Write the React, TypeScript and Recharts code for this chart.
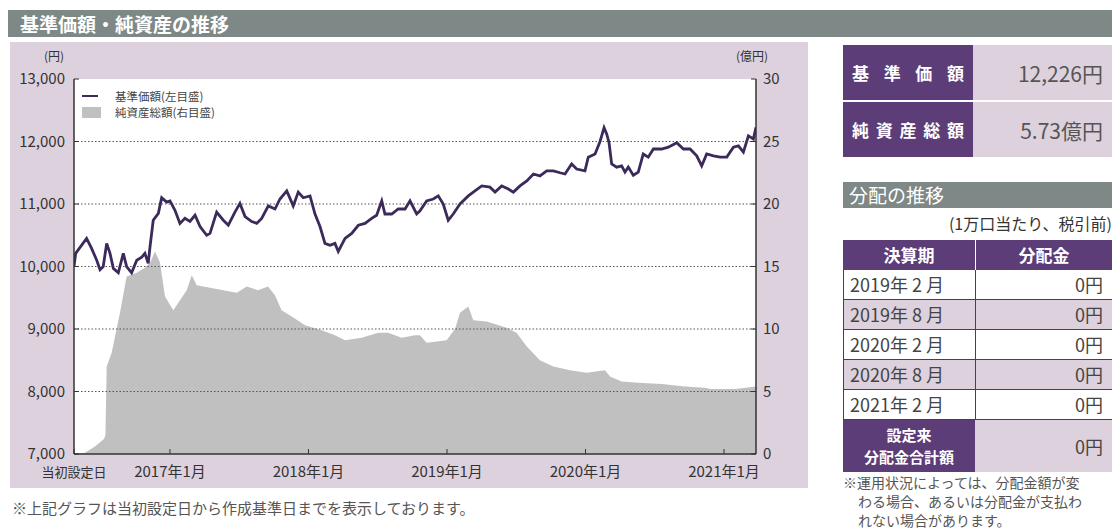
import {
  Area,
  CartesianGrid,
  ComposedChart,
  Line,
  ReferenceLine,
  XAxis,
  YAxis,
} from "recharts";

const FONT = "'Noto Sans CJK JP', 'Noto Sans', sans-serif";

// time axis in decimal years, launch date first
const xTicks = [2016.307, 2017, 2018, 2019, 2020, 2021];
const xEnd = 2021.231;

const priceT = [
  2016.307, 2016.319, 2016.398, 2016.434, 2016.471, 2016.495, 2016.518, 2016.543, 2016.567, 2016.591,
  2016.627, 2016.663, 2016.687, 2016.723, 2016.76, 2016.796, 2016.819, 2016.843, 2016.856, 2016.879,
  2016.916, 2016.94, 2016.976, 2017.0, 2017.036, 2017.072, 2017.108, 2017.144, 2017.181, 2017.217,
  2017.265, 2017.289, 2017.337, 2017.385, 2017.421, 2017.469, 2017.505, 2017.542, 2017.59, 2017.626,
  2017.662, 2017.71, 2017.758, 2017.794, 2017.843, 2017.89, 2017.926, 2017.962, 2018.011, 2018.047,
  2018.083, 2018.119, 2018.155, 2018.191, 2018.215, 2018.264, 2018.312, 2018.36, 2018.408, 2018.456,
  2018.492, 2018.529, 2018.552, 2018.601, 2018.648, 2018.697, 2018.733, 2018.781, 2018.805, 2018.853,
  2018.901, 2018.937, 2018.973, 2019.009, 2019.045, 2019.094, 2019.154, 2019.202, 2019.251, 2019.31,
  2019.347, 2019.395, 2019.443, 2019.479, 2019.527, 2019.576, 2019.624, 2019.671, 2019.72, 2019.768,
  2019.816, 2019.852, 2019.9, 2019.936, 2019.996, 2020.02, 2020.069, 2020.105, 2020.134, 2020.153,
  2020.17, 2020.189, 2020.225, 2020.261, 2020.285, 2020.309, 2020.345, 2020.381, 2020.417, 2020.453,
  2020.49, 2020.55, 2020.598, 2020.659, 2020.707, 2020.755, 2020.803, 2020.839, 2020.875, 2020.924,
  2020.972, 2021.02, 2021.068, 2021.104, 2021.14, 2021.176, 2021.212, 2021.231,
];
const priceValues = [
  10000, 10210, 10450, 10290, 10100, 9950, 10000, 10370, 10210, 9970,
  9900, 10210, 10000, 9900, 10100, 10150, 10210, 10050, 10320, 10740,
  10850, 11100, 11030, 11050, 10900, 10690, 10770, 10720, 10820, 10640,
  10500, 10530, 10870, 10740, 10660, 10870, 11010, 10800, 10720, 10690,
  10770, 10970, 10920, 11080, 11210, 10970, 11190, 11100, 11130, 10840,
  10640, 10370, 10340, 10370, 10240, 10450, 10530, 10660, 10690, 10770,
  10820, 11050, 10840, 10840, 10920, 10920, 11050, 10840, 10890, 11050,
  11080, 11130, 11000, 10740, 10840, 11000, 11130, 11210, 11290, 11270,
  11190, 11290, 11240, 11190, 11290, 11370, 11480, 11450, 11530, 11530,
  11500, 11480, 11640, 11560, 11530, 11750, 11800, 12000, 12220, 12120,
  11980, 11640, 11590, 11610, 11510, 11590, 11460, 11510, 11800, 11750,
  11880, 11880, 11910, 11980, 11880, 11880, 11770, 11610, 11800, 11770,
  11750, 11750, 11910, 11930, 11830, 12090, 12040, 12226,
];

// net assets, 億円
const navT = [
  2016.307, 2016.386, 2016.458, 2016.523, 2016.534, 2016.543, 2016.579, 2016.639, 2016.687, 2016.76,
  2016.819, 2016.856, 2016.892, 2016.928, 2016.964, 2017.024, 2017.072, 2017.121, 2017.157, 2017.193,
  2017.289, 2017.385, 2017.482, 2017.554, 2017.635, 2017.708, 2017.758, 2017.806, 2017.879, 2017.975,
  2018.095, 2018.191, 2018.264, 2018.384, 2018.504, 2018.576, 2018.673, 2018.769, 2018.805, 2018.853,
  2018.926, 2018.997, 2019.058, 2019.094, 2019.154, 2019.19, 2019.287, 2019.431, 2019.502, 2019.576,
  2019.671, 2019.768, 2019.888, 2020.009, 2020.141, 2020.177, 2020.261, 2020.381, 2020.55, 2020.718,
  2020.863, 2020.899, 2021.08, 2021.231,
];
const navValues = [
  0, 0.1, 0.6, 1.2, 1.5, 7.0, 8.1, 11.3, 14.2, 14.5,
  14.9, 15.3, 16.2, 15.3, 12.6, 11.5, 12.3, 13.1, 14.3, 13.5,
  13.3, 13.1, 12.9, 13.4, 13.1, 13.4, 12.7, 11.5, 11.0, 10.3,
  9.9, 9.5, 9.1, 9.3, 9.7, 9.7, 9.3, 9.5, 9.5, 8.9,
  9.0, 9.1, 10.0, 11.3, 11.8, 10.7, 10.6, 10.1, 9.7, 8.6,
  7.5, 7.0, 6.7, 6.5, 6.7, 6.2, 5.8, 5.7, 5.6, 5.4,
  5.3, 5.2, 5.2, 5.4,
];

const leftTicks = [7000, 8000, 9000, 10000, 11000, 12000, 13000];
const rightTicks = [0, 5, 10, 15, 20, 25, 30];
const gridValues = [8000, 9000, 10000, 11000, 12000];

const periods = ["2019年 2 月", "2019年 8 月", "2020年 2 月", "2020年 8 月", "2021年 2 月"];
const payouts = ["0円", "0円", "0円", "0円", "0円"];

const priceData = priceT.map((t, i) => ({ t, price: priceValues[i] }));
const navData = navT.map((t, i) => ({ t, nav: navValues[i] }));

const GRAY = "#7e8886";
const PURPLE = "#5c3d77";
const LILAC = "#ddd1dd";
const INK = "#333";

function XTick({ x, y, payload }: any) {
  const first = payload.value === xTicks[0];
  return (
    <text x={x} y={y} dy={12} textAnchor="middle" fill={INK} fontSize={first ? 13 : 15}>
      {first ? "当初設定日" : `${payload.value}年1月`}
    </text>
  );
}

function Abs({ style, children }: any) {
  return <div style={{ position: "absolute", boxSizing: "border-box", ...style }}>{children}</div>;
}

export default function App() {
  return (
    <div
      style={{
        position: "absolute",
        left: 0,
        top: 0,
        width: 1112,
        height: 532,
        overflow: "hidden",
        background: "#fff",
        fontFamily: FONT,
        color: INK,
      }}
    >
      {/* title bar */}
      <Abs style={{ left: 8, top: 10, width: 1104, height: 27, background: GRAY }} />
      <Abs style={{ left: 20, top: 10, height: 27, lineHeight: "27px", color: "#fff", fontSize: 19, fontWeight: 700 }}>
        基準価額・純資産の推移
      </Abs>

      {/* chart panel */}
      <Abs style={{ left: 10, top: 42, width: 798, height: 446, background: LILAC }} />
      <Abs style={{ left: 44, top: 47, fontSize: 12 }}>(円)</Abs>
      <Abs style={{ left: 736, top: 47, fontSize: 12 }}>(億円)</Abs>
      <Abs style={{ left: 10, top: 42 }}>
        <ComposedChart width={798} height={446} margin={{ top: 37, right: 0, bottom: 0, left: 0 }}>
          <CartesianGrid fill="#fff" stroke="none" horizontal={false} vertical={false} />
          <XAxis
            dataKey="t"
            type="number"
            domain={[xTicks[0], xEnd]}
            ticks={xTicks}
            allowDataOverflow
            height={34}
            tick={<XTick />}
            tickSize={-5}
            tickMargin={16}
            axisLine={{ stroke: INK, strokeWidth: 1.5 }}
            tickLine={{ stroke: INK }}
          />
          <YAxis
            domain={[7000, 13000]}
            ticks={leftTicks}
            width={64}
            allowDataOverflow
            tickFormatter={(v: number) => v.toLocaleString("en-US")}
            tick={{ fill: INK, fontSize: 15 }}
            tickSize={-5}
            tickMargin={14}
            axisLine={{ stroke: INK, strokeWidth: 1.5 }}
            tickLine={{ stroke: INK }}
          />
          <YAxis
            yAxisId="right"
            orientation="right"
            domain={[0, 30]}
            ticks={rightTicks}
            width={52}
            allowDataOverflow
            tick={{ fill: INK, fontSize: 15, textAnchor: "start" }}
            tickSize={-5}
            tickMargin={12}
            axisLine={{ stroke: INK, strokeWidth: 1.5 }}
            tickLine={{ stroke: INK }}
          />
          <Area
            data={navData}
            dataKey="nav"
            yAxisId="right"
            type="linear"
            fill="#c0c0c0"
            fillOpacity={1}
            stroke="none"
            isAnimationActive={false}
          />
          {gridValues.map((v) => (
            <ReferenceLine key={v} y={v} stroke="#555" strokeDasharray="1.5 2" strokeWidth={1.2} />
          ))}
          <Line
            data={priceData}
            dataKey="price"
            type="linear"
            stroke="#3b2a5a"
            strokeWidth={2.8}
            dot={false}
            isAnimationActive={false}
          />
        </ComposedChart>
      </Abs>

      {/* legend */}
      <Abs style={{ left: 82, top: 88, fontSize: 11.5, color: "#444", lineHeight: "16px", whiteSpace: "nowrap" }}>
        <div style={{ display: "flex", alignItems: "center", height: 16 }}>
          <span style={{ width: 16, height: 2, background: "#3b2a5a", marginRight: 17 }} />
          基準価額(左目盛)
        </div>
        <div style={{ display: "flex", alignItems: "center", height: 16 }}>
          <span style={{ width: 19, height: 11, background: "#c0c0c0", marginRight: 14 }} />
          純資産総額(右目盛)
        </div>
      </Abs>

      <Abs style={{ left: 12, top: 497, fontSize: 15, color: "#555", whiteSpace: "nowrap" }}>
        ※上記グラフは当初設定日から作成基準日までを表示しております。
      </Abs>

      {/* fund summary */}
      {[
        ["基準価額", "12,226円", 45],
        ["純資産総額", "5.73億円", 102],
      ].map(([k, v, top]: any) => (
        <div key={k}>
          <Abs
            style={{
              left: 843,
              top,
              width: 130,
              height: 55,
              background: PURPLE,
              color: "#fff",
              fontSize: 17,
              fontWeight: 700,
              display: "flex",
              alignItems: "center",
              justifyContent: "space-between",
              padding: "0 9px",
            }}
          >
            {k.split("").map((c: string, i: number) => (
              <span key={i}>{c}</span>
            ))}
          </Abs>
          <Abs
            style={{
              left: 973,
              top,
              width: 139,
              height: 55,
              background: LILAC,
              color: "#555",
              fontSize: 21,
              display: "flex",
              alignItems: "center",
              justifyContent: "flex-end",
              paddingRight: 9,
            }}
          >
            {v}
          </Abs>
        </div>
      ))}

      {/* distribution history */}
      <Abs style={{ left: 843, top: 182, width: 269, height: 26, background: GRAY, color: "#fff", fontSize: 19, lineHeight: "26px", paddingLeft: 6 }}>
        分配の推移
      </Abs>
      <Abs style={{ left: 843, top: 211, width: 269, textAlign: "right", fontSize: 16, whiteSpace: "nowrap" }}>
        (1万口当たり、税引前)
      </Abs>
      <Abs style={{ left: 843, top: 240, width: 132, height: 30, background: PURPLE, color: "#fff", fontSize: 17, fontWeight: 700, textAlign: "center", lineHeight: "30px" }}>
        決算期
      </Abs>
      <Abs style={{ left: 975, top: 240, width: 137, height: 30, background: PURPLE, color: "#fff", fontSize: 17, fontWeight: 700, textAlign: "center", lineHeight: "30px", borderLeft: "1px solid #fff" }}>
        分配金
      </Abs>
      {periods.map((p, i) => (
        <div key={p}>
          <Abs
            style={{
              left: 843,
              top: 270 + i * 30,
              width: 132,
              height: 30,
              background: i % 2 ? LILAC : "#fff",
              borderBottom: "1px solid #444",
              borderLeft: "1px solid #444",
              fontSize: 18,
              lineHeight: "29px",
              paddingLeft: 6,
              color: "#444",
              whiteSpace: "nowrap",
            }}
          >
            {p}
          </Abs>
          <Abs
            style={{
              left: 975,
              top: 270 + i * 30,
              width: 137,
              height: 30,
              background: i % 2 ? LILAC : "#fff",
              borderBottom: "1px solid #444",
              borderLeft: "1px solid #444",
              fontSize: 18,
              lineHeight: "29px",
              textAlign: "right",
              paddingRight: 9,
              color: "#444",
            }}
          >
            {payouts[i]}
          </Abs>
        </div>
      ))}
      <Abs style={{ left: 843, top: 420, width: 132, height: 52, background: PURPLE, color: "#fff", fontSize: 15, fontWeight: 700, textAlign: "center", lineHeight: "22px", paddingTop: 4 }}>
        <div>設定来</div>
        <div>分配金合計額</div>
      </Abs>
      <Abs style={{ left: 975, top: 420, width: 137, height: 52, background: LILAC, fontSize: 18, lineHeight: "52px", textAlign: "right", paddingRight: 9, color: "#444" }}>
        0円
      </Abs>
      <Abs style={{ left: 843, top: 473, width: 300, fontSize: 14, lineHeight: "19px", color: "#555", whiteSpace: "nowrap" }}>
        <div>※運用状況によっては、分配金額が変</div>
        <div style={{ paddingLeft: 15 }}>わる場合、あるいは分配金が支払わ</div>
        <div style={{ paddingLeft: 15 }}>れない場合があります。</div>
      </Abs>
    </div>
  );
}
